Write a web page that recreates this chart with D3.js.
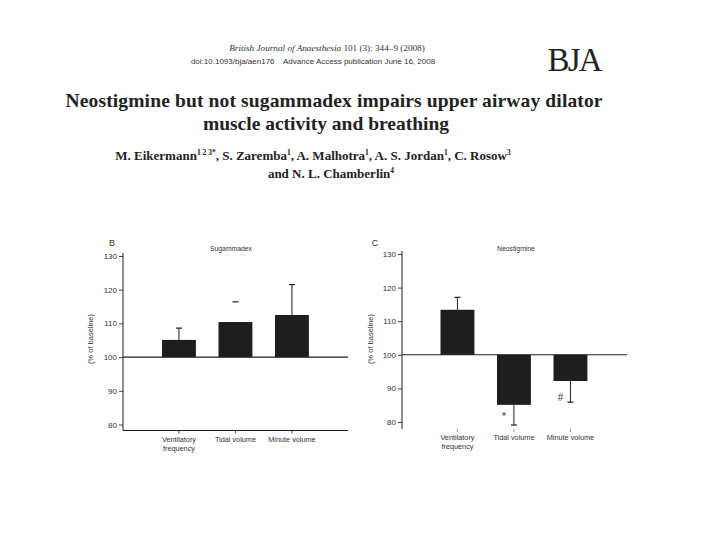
<!DOCTYPE html>
<html><head><meta charset="utf-8">
<script src="https://cdn.jsdelivr.net/npm/d3@7"></script>
<style>html,body{margin:0;padding:0;background:#fff;}svg{display:block;}</style>
</head><body>
<svg id="c" width="720" height="540"></svg>
<script>
const categories = ["Ventilatory frequency", "Tidal volume", "Minute volume"];
const categoryLines = [["Ventilatory", "frequency"], ["Tidal volume"], ["Minute volume"]];
const sugammadexValues = [105.1, 110.4, 112.5];
const sugammadexError = [108.6, 116.4, 121.5];
const sugammadexStem = [true, false, true];
const neostigmineValues = [113.4, 85.1, 92.2];
const neostigmineError = [117.1, 79.1, 85.9];
const neostigmineMarks = ["", "*", "#"];
const yTicks = [130, 120, 110, 100, 90, 80];

const svg = d3.select("#c");
const ink = "#1e1e1e";

// Header
svg.append("text").attr("x", 327).attr("y", 51).attr("text-anchor", "middle")
  .attr("font-family", "Liberation Serif").attr("font-size", 9.2).attr("fill", "#333")
  .html('<tspan font-style="italic">British Journal of Anaesthesia</tspan> 101 (3): 344–9 (2008)');
svg.append("text").attr("x", 313).attr("y", 64).attr("text-anchor", "middle")
  .attr("font-family", "Liberation Sans").attr("font-size", 8).attr("fill", "#333")
  .text("doi:10.1093/bja/aen176    Advance Access publication June 16, 2008").attr("xml:space", "preserve");
svg.append("text").attr("x", 575).attr("y", 71).attr("text-anchor", "middle")
  .attr("font-family", "Liberation Serif").attr("font-size", 33).attr("fill", "#222")
  .attr("textLength", 55).text("BJA");

svg.append("text").attr("x", 334).attr("y", 107).attr("text-anchor", "middle")
  .attr("font-family", "Liberation Serif").attr("font-weight", "bold").attr("font-size", 19.5).attr("fill", "#222")
  .attr("textLength", 537).text("Neostigmine but not sugammadex impairs upper airway dilator");
svg.append("text").attr("x", 326).attr("y", 130).attr("text-anchor", "middle")
  .attr("font-family", "Liberation Serif").attr("font-weight", "bold").attr("font-size", 19.5).attr("fill", "#222")
  .text("muscle activity and breathing");

const authors = svg.append("text").attr("x", 313).attr("y", 160).attr("text-anchor", "middle")
  .attr("font-family", "Liberation Serif").attr("font-weight", "bold").attr("font-size", 13).attr("fill", "#222");
authors.html('M. Eikermann<tspan font-size="7.5" dy="-5">1 2 3*</tspan><tspan dy="5">, S. Zaremba</tspan><tspan font-size="7.5" dy="-5">1</tspan><tspan dy="5">, A. Malhotra</tspan><tspan font-size="7.5" dy="-5">1</tspan><tspan dy="5">, A. S. Jordan</tspan><tspan font-size="7.5" dy="-5">1</tspan><tspan dy="5">, C. Rosow</tspan><tspan font-size="7.5" dy="-5">3</tspan>');
svg.append("text").attr("x", 331).attr("y", 178).attr("text-anchor", "middle")
  .attr("font-family", "Liberation Serif").attr("font-weight", "bold").attr("font-size", 13).attr("fill", "#222")
  .html('and N. L. Chamberlin<tspan font-size="7.5" dy="-5">4</tspan>');

function panel(opt) {
  const g = svg.append("g");
  const y = d3.scaleLinear().domain([80, 130]).range([opt.y80, opt.y130]);
  const x = d3.scaleBand().domain(categories).range(opt.xr).paddingInner(0.4).paddingOuter(0.5);
  const ax = opt.axisX;
  const yAxis = d3.axisLeft(y).tickValues(yTicks).tickSize(4).tickPadding(2).tickFormat(d3.format("d"));
  const ga = g.append("g").attr("transform", `translate(${ax},0)`).call(yAxis);
  ga.select(".domain").remove();
  ga.selectAll(".tick line").attr("stroke", "#333").attr("stroke-width", 0.9);
  ga.selectAll(".tick text").attr("font-family", "Liberation Sans").attr("font-size", 8).attr("fill", "#333");
  g.append("line").attr("x1", ax).attr("x2", ax).attr("y1", opt.y130 - 3).attr("y2", opt.axisBottom)
    .attr("stroke", ink).attr("stroke-width", 1);
  opt.values.forEach((v, i) => {
    const c = categories[i];
    const top = Math.min(y(v), y(100)), h = Math.abs(y(v) - y(100));
    g.append("rect").attr("x", x(c)).attr("y", top).attr("width", x.bandwidth()).attr("height", h).attr("fill", ink);
    const cx = x(c) + x.bandwidth() / 2;
    const e = opt.errors[i];
    if (!opt.stems || opt.stems[i]) {
      g.append("line").attr("x1", cx).attr("x2", cx).attr("y1", y(v)).attr("y2", y(e)).attr("stroke", ink).attr("stroke-width", 1);
    }
    g.append("line").attr("x1", cx - 3).attr("x2", cx + 3).attr("y1", y(e)).attr("y2", y(e)).attr("stroke", ink).attr("stroke-width", 1.2);
    if (opt.marks && opt.marks[i]) {
      g.append("text").attr("x", cx - 10).attr("y", y(e) + (opt.marks[i] === "*" ? -5 : -1)).attr("text-anchor", "middle")
        .attr("font-family", "Liberation Sans").attr("font-size", 10).attr("fill", "#334").text(opt.marks[i]);
    }
  });
  g.append("line").attr("x1", ax).attr("x2", opt.lineEnd).attr("y1", y(100)).attr("y2", y(100)).attr("stroke", ink).attr("stroke-width", 1.1);
  if (opt.bottomLine) {
    g.append("line").attr("x1", ax).attr("x2", opt.lineEnd).attr("y1", opt.axisBottom).attr("y2", opt.axisBottom).attr("stroke", ink).attr("stroke-width", 1);
  }
  categories.forEach((c, i) => {
    const cx = x(c) + x.bandwidth() / 2;
    g.append("line").attr("x1", cx).attr("x2", cx).attr("y1", opt.axisBottom).attr("y2", opt.axisBottom + 3)
      .attr("stroke", opt.bottomLine ? ink : "#777").attr("stroke-width", 0.8);
    categoryLines[i].forEach((t, j) => {
      g.append("text").attr("x", cx).attr("y", opt.axisBottom + 11 + j * 9).attr("text-anchor", "middle")
        .attr("font-family", "Liberation Sans").attr("font-size", 7.3).attr("fill", "#333").text(t);
    });
  });
  g.append("text").attr("x", opt.titleX).attr("y", 251).attr("text-anchor", "middle")
    .attr("font-family", "Liberation Sans").attr("font-size", 6.8).attr("fill", "#333").text(opt.title);
  g.append("text").attr("x", opt.letterX).attr("y", 246).attr("text-anchor", "middle")
    .attr("font-family", "Liberation Sans").attr("font-size", 9).attr("fill", "#333").text(opt.letter);
  g.append("text").attr("transform", `translate(${opt.labelX},${339}) rotate(-90)`).attr("text-anchor", "middle")
    .attr("font-family", "Liberation Sans").attr("font-size", 7.5).attr("fill", "#333").text("(% of baseline)");
}

panel({ values: sugammadexValues, errors: sugammadexError, stems: sugammadexStem,
  y80: 424.5, y130: 256, xr: [133.75, 337.15], axisX: 123, axisBottom: 430.5, lineEnd: 348,
  bottomLine: true, title: "Sugammadex", titleX: 231, letter: "B", letterX: 112, labelX: 93 });
panel({ values: neostigmineValues, errors: neostigmineError, marks: neostigmineMarks,
  y80: 422, y130: 254, xr: [412.25, 615.65], axisX: 402, axisBottom: 429, lineEnd: 627,
  bottomLine: false, title: "Neostigmine", titleX: 516, letter: "C", letterX: 375, labelX: 373 });
</script>
</body></html>
